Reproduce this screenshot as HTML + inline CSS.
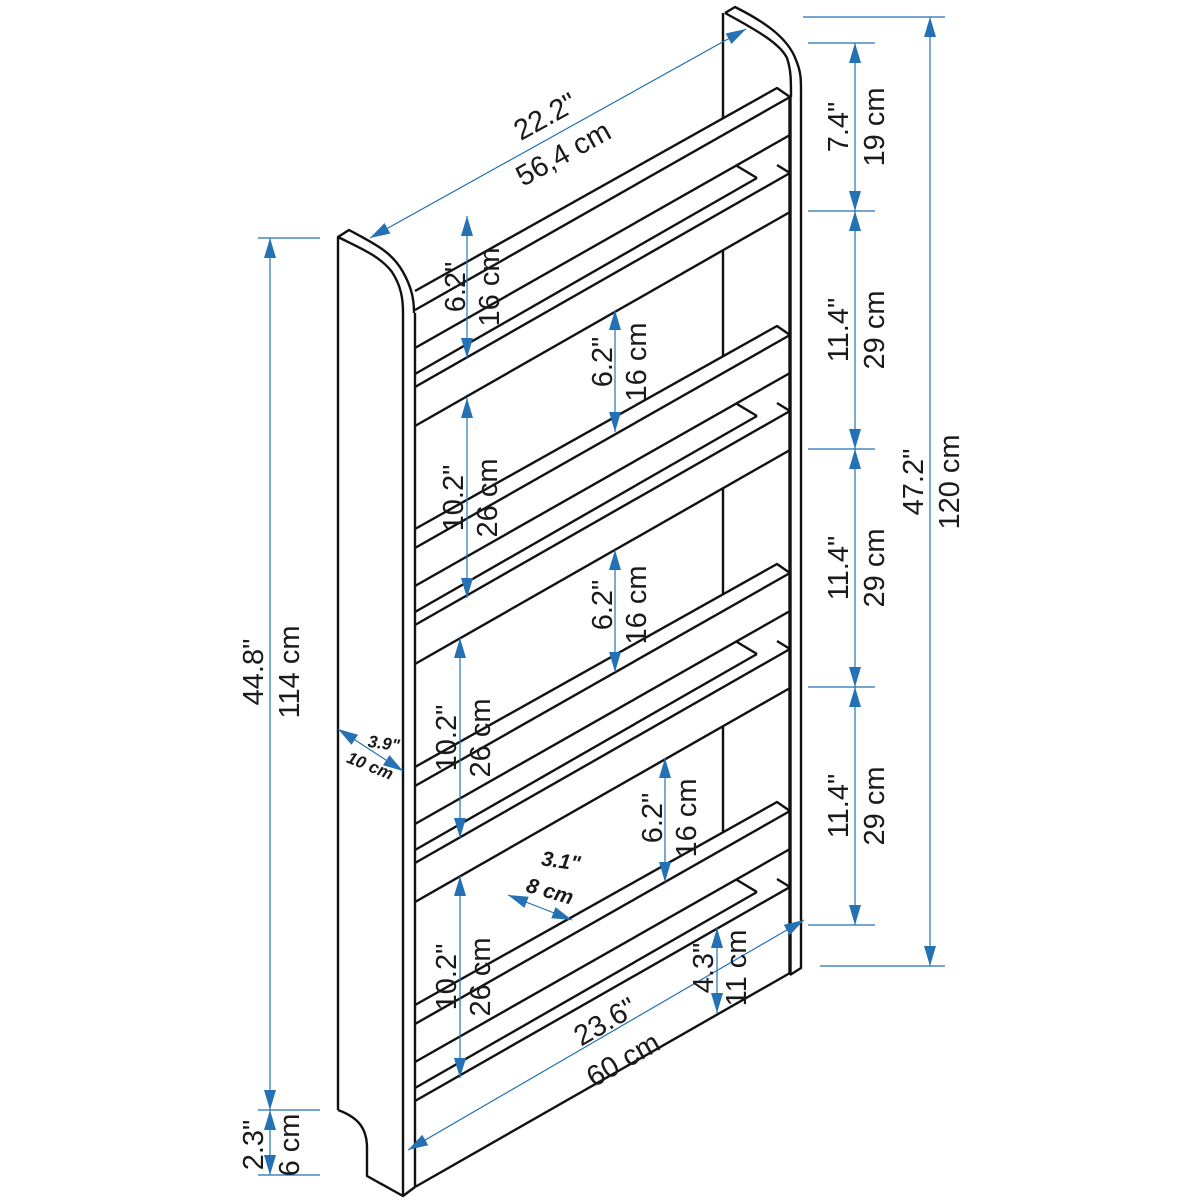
<!DOCTYPE html>
<html><head><meta charset="utf-8"><style>
html,body{margin:0;padding:0;background:#fff}
svg{display:block}
text{font-family:"Liberation Sans",sans-serif;fill:#1a1a1a}
</style></head><body>
<svg width="1200" height="1200" viewBox="0 0 1200 1200" xmlns="http://www.w3.org/2000/svg">
<defs>
<marker id="a" viewBox="0 0 20 12" refX="20" refY="6" markerWidth="20" markerHeight="12" markerUnits="userSpaceOnUse" orient="auto-start-reverse">
<path d="M0,0 L20,6 L0,12 z" fill="#2471b3"/></marker>
</defs>
<g fill="none" stroke="#111" stroke-width="2.4" stroke-linejoin="round">
<!-- left panel -->
<path d="M338,1110 L338,237 L349,230 C375,244 392,252 403,272 C412,288 414,300 414,313"/>
<path d="M338,237 C360,248 380,256 392,272 C401,286 403,298 403,313 L403,1196"/>
<path d="M415,313 L415,1187"/>
<path d="M338,1110 C360,1118 367,1130 367,1148 L367,1176 L403,1196 L415,1187"/>
<!-- right panel -->
<path d="M725,13 L735,7 C765,22 788,38 796,60 C801,72 801,80 801,90 L801,968 L790,975"/>
<path d="M725,13 C760,32 780,44 787,58 C791,70 791,80 791,97"/>
<path d="M790,97 L790,975" stroke-width="3.4"/>
<path d="M723,13 L723,118"/>
<path d="M723,250 L723,356 M723,488 L723,594 M723,726 L723,832"/>
<!-- shelf groups -->
<g id="sg">
<path d="M415,291 L777,88 L790,97 M415,310 L790,97 M415,348 L790,135 M737,166 L757,178 M415,374 L757,178 M777,165 L790,173 M415,387 L790,173"/>
</g>
<path d="M415,426 L790,212"/>
<use href="#sg" transform="translate(0,238)"/>
<path d="M415,664 L790,450"/>
<use href="#sg" transform="translate(0,476)"/>
<path d="M415,902 L790,688"/>
<use href="#sg" transform="translate(0,714)"/>
<path d="M415,1187 L790,973"/>
</g>
<!-- dimension lines -->
<g stroke="#2471b3" stroke-width="1.2" fill="none">
<path d="M803,17 H945 M808,43 H875 M808,211 H875 M808,449 H875 M808,687 H875 M808,925 H875 M820,966 H945"/>
<path d="M258,238 H320 M258,1110 H320 M258,1175 H320"/>
<line x1="855" y1="43" x2="855" y2="211" marker-start="url(#a)" marker-end="url(#a)"/>
<line x1="855" y1="211" x2="855" y2="449" marker-start="url(#a)" marker-end="url(#a)"/>
<line x1="855" y1="449" x2="855" y2="687" marker-start="url(#a)" marker-end="url(#a)"/>
<line x1="855" y1="687" x2="855" y2="925" marker-start="url(#a)" marker-end="url(#a)"/>
<line x1="930" y1="17" x2="930" y2="966" marker-start="url(#a)" marker-end="url(#a)"/>
<line x1="270" y1="238" x2="270" y2="1110" marker-start="url(#a)" marker-end="url(#a)"/>
<line x1="270" y1="1110" x2="270" y2="1175" marker-start="url(#a)" marker-end="url(#a)"/>
<line x1="370" y1="238" x2="746" y2="29" marker-start="url(#a)" marker-end="url(#a)"/>
<line x1="408" y1="1150" x2="804" y2="920" marker-start="url(#a)" marker-end="url(#a)"/>
<line x1="338" y1="729" x2="403" y2="771" marker-start="url(#a)" marker-end="url(#a)"/>
<line x1="508" y1="895" x2="572" y2="920" marker-start="url(#a)" marker-end="url(#a)"/>
<line x1="467" y1="216" x2="467" y2="358" marker-start="url(#a)" marker-end="url(#a)"/>
<line x1="467" y1="398" x2="467" y2="598" marker-start="url(#a)" marker-end="url(#a)"/>
<line x1="460" y1="638" x2="460" y2="838" marker-start="url(#a)" marker-end="url(#a)"/>
<line x1="460" y1="876" x2="460" y2="1078" marker-start="url(#a)" marker-end="url(#a)"/>
<line x1="615" y1="310" x2="615" y2="432" marker-start="url(#a)" marker-end="url(#a)"/>
<line x1="615" y1="550" x2="615" y2="672" marker-start="url(#a)" marker-end="url(#a)"/>
<line x1="665" y1="758" x2="665" y2="882" marker-start="url(#a)" marker-end="url(#a)"/>
<line x1="717" y1="928" x2="717" y2="1013" marker-start="url(#a)" marker-end="url(#a)"/>
</g>
<!-- labels -->
<g font-size="29">
<text transform="translate(848,127) rotate(-90)" text-anchor="middle">7.4"</text>
<text transform="translate(884,127) rotate(-90)" text-anchor="middle">19 cm</text>
<text transform="translate(848,330) rotate(-90)" text-anchor="middle">11.4"</text>
<text transform="translate(884,330) rotate(-90)" text-anchor="middle">29 cm</text>
<text transform="translate(848,568) rotate(-90)" text-anchor="middle">11.4"</text>
<text transform="translate(884,568) rotate(-90)" text-anchor="middle">29 cm</text>
<text transform="translate(848,806) rotate(-90)" text-anchor="middle">11.4"</text>
<text transform="translate(884,806) rotate(-90)" text-anchor="middle">29 cm</text>
<text transform="translate(923,482) rotate(-90)" text-anchor="middle">47.2"</text>
<text transform="translate(959,482) rotate(-90)" text-anchor="middle">120 cm</text>
<text transform="translate(263,672) rotate(-90)" text-anchor="middle">44.8"</text>
<text transform="translate(299,672) rotate(-90)" text-anchor="middle">114 cm</text>
<text transform="translate(263,1145) rotate(-90)" text-anchor="middle">2.3"</text>
<text transform="translate(299,1145) rotate(-90)" text-anchor="middle">6 cm</text>
<text transform="translate(465,287) rotate(-90)" text-anchor="middle">6.2"</text>
<text transform="translate(499,287) rotate(-90)" text-anchor="middle">16 cm</text>
<text transform="translate(463,498) rotate(-90)" text-anchor="middle">10.2"</text>
<text transform="translate(497,498) rotate(-90)" text-anchor="middle">26 cm</text>
<text transform="translate(456,738) rotate(-90)" text-anchor="middle">10.2"</text>
<text transform="translate(490,738) rotate(-90)" text-anchor="middle">26 cm</text>
<text transform="translate(456,977) rotate(-90)" text-anchor="middle">10.2"</text>
<text transform="translate(490,977) rotate(-90)" text-anchor="middle">26 cm</text>
<text transform="translate(612,362) rotate(-90)" text-anchor="middle">6.2"</text>
<text transform="translate(646,362) rotate(-90)" text-anchor="middle">16 cm</text>
<text transform="translate(612,605) rotate(-90)" text-anchor="middle">6.2"</text>
<text transform="translate(646,605) rotate(-90)" text-anchor="middle">16 cm</text>
<text transform="translate(662,818) rotate(-90)" text-anchor="middle">6.2"</text>
<text transform="translate(696,818) rotate(-90)" text-anchor="middle">16 cm</text>
<text transform="translate(713,968) rotate(-90)" text-anchor="middle">4.3"</text>
<text transform="translate(746,968) rotate(-90)" text-anchor="middle">11 cm</text>
<text transform="translate(550,125) rotate(-29)" text-anchor="middle">22.2"</text>
<text transform="translate(568,162) rotate(-29)" text-anchor="middle">56,4 cm</text>
<text transform="translate(610,1030) rotate(-30)" text-anchor="middle">23.6"</text>
<text transform="translate(628,1068) rotate(-30)" text-anchor="middle">60 cm</text>
</g>
<g font-size="17" font-weight="bold" font-style="italic">
<text transform="translate(383,749) rotate(8)" text-anchor="middle">3.9"</text>
<text transform="translate(368,771) rotate(22)" text-anchor="middle">10 cm</text>
</g>
<g font-size="21" font-weight="bold" font-style="italic">
<text transform="translate(560,868) rotate(8)" text-anchor="middle">3.1"</text>
<text transform="translate(548,898) rotate(16)" text-anchor="middle">8 cm</text>
</g>
</svg>
</body></html>
